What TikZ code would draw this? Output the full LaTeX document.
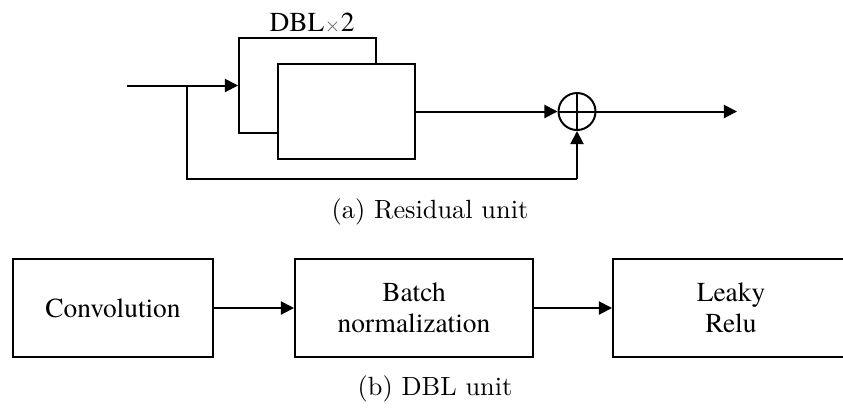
\documentclass[tikz,border=0pt]{standalone}
\usepackage{fontspec}
\newfontfamily\timesfont{texgyretermes-regular.otf}
\usetikzlibrary{arrows.meta}
\def\px{0.3796pt}
\tikzset{
  wire/.style={line width=0.75pt},
  arr/.style={wire,-{Triangle[length=5pt,width=5pt]}},
  box/.style={draw,line width=0.75pt,inner sep=0pt,fill=white,align=center,
    font=\fontsize{10.4}{11.8}\timesfont},
  sumnode/.style={draw,circle,line width=0.75pt,inner sep=0pt,minimum size=37*\px},
  caption/.style={anchor=base,font=\fontsize{10}{12}\selectfont}
}
\begin{document}
\begin{tikzpicture}[x=\px,y=-\px]
\clip (0,0) rectangle (843,408);
\fill[white] (0,0) rectangle (843,408);

% residual unit
\node[box,minimum width=137*\px,minimum height=95*\px] (back) at (307.5,85.5) {};
\node[box,minimum width=137*\px,minimum height=95*\px] (front) at (346.5,111.5) {};
\node[anchor=base,font=\fontsize{10.4}{12}\timesfont] (dbl) at (312,31)
  {DBL{\color{black!60}$\scriptstyle\times$}2};
\node[sumnode] (sum) at (577,111.5) {};
\draw[wire] (sum.north) -- (sum.south) (sum.west) -- (sum.east);

\coordinate (in) at (127,85.5);
\coordinate (branch) at (187,85.5);
\coordinate (low) at (577,179);
\coordinate (out) at (737,111.5);

\draw[arr] (in) -- (back.west);
\draw[wire] (branch) |- (low);
\draw[arr] (low) -- (sum.south);
\draw[arr] (front.east) -- (sum.west);
\draw[arr] (sum.east) -- (out);

\node[caption] (capa) at (430,218) {(a) Residual unit};

% DBL unit
\node[box,minimum width=200*\px,minimum height=98*\px] (conv) at (113,308) {Convolution};
\node[box,minimum width=238*\px,minimum height=98*\px] (bn) at (414,308) {Batch\\normalization};
\node[box,minimum width=236*\px,minimum height=98*\px] (lr) at (731,308) {Leaky\\Relu};
\draw[arr] (conv.east) -- (bn.west);
\draw[arr] (bn.east) -- (lr.west);

\node[caption] (capb) at (435,395) {(b) DBL unit};
\end{tikzpicture}
\end{document}
